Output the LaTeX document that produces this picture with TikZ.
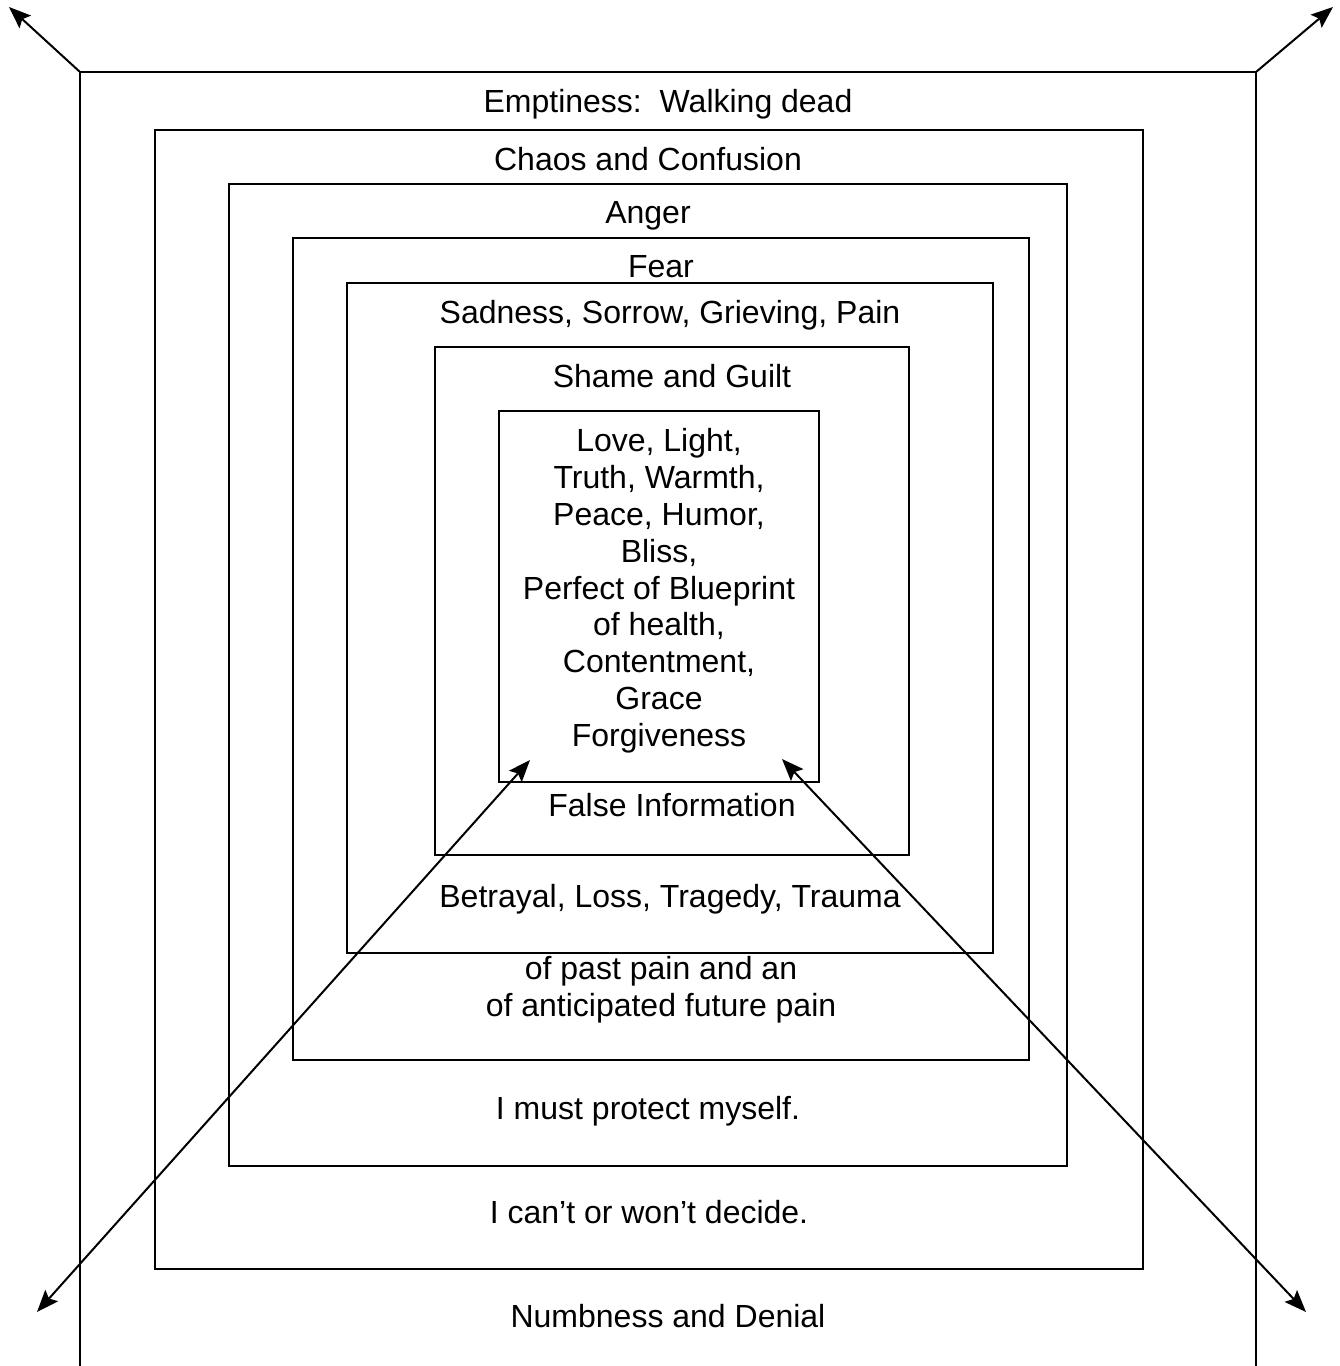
\documentclass[tikz,border=0pt]{standalone}
\usepackage{fontspec}
\setmainfont{Liberation Sans}
\usetikzlibrary{arrows.meta}
\begin{document}
\begin{tikzpicture}[x=1pt,y=-1pt,
  frame/.style={line width=2pt, line cap=rect},
  lbl/.style={anchor=base, inner sep=0pt, font=\fontsize{32}{37}\selectfont},
  arr/.style={line width=2pt, -{Stealth[length=22pt,width=17pt,inset=4pt]}},
  darr/.style={line width=2pt, {Stealth[length=22pt,width=17pt,inset=4pt]}-{Stealth[length=22pt,width=17pt,inset=4pt]}}]
\useasboundingbox (0,0) rectangle (1340,1366);
% outer frame (open at bottom)
\coordinate (otl) at (80,72);
\coordinate (otr) at (1256,72);
\draw[frame] (80,1366) -- (otl) -- (otr) -- (1256,1366);
% nested frames
\draw[frame] (155,130) rectangle (1143,1269);
\draw[frame] (229,184) rectangle (1067,1166);
\draw[frame] (293,238) rectangle (1029,1060);
\draw[frame] (347,283) rectangle (993,953);
\draw[frame] (435,347) rectangle (909,855);
\draw[frame] (499,411) rectangle (819,782);
% labels
\node[lbl] (t1) at (668,112) {Emptiness:\ \ Walking dead};
\node[lbl] (t2) at (648,170) {Chaos and Confusion};
\node[lbl] (t3) at (648,223) {Anger};
\node[lbl] (t4) at (661,277) {Fear};
\node[lbl] (t5) at (670,323) {Sadness, Sorrow, Grieving, Pain};
\node[lbl] (t6) at (672,387) {Shame and Guilt};
\node[lbl] (c1) at (659,451) {Love, Light,};
\node[lbl] (c2) at (659,488) {Truth, Warmth,};
\node[lbl] (c3) at (659,525) {Peace, Humor,};
\node[lbl] (c4) at (659,562) {Bliss,};
\node[lbl] (c5) at (659,599) {Perfect of Blueprint};
\node[lbl] (c6) at (659,635) {of health,};
\node[lbl] (c7) at (659,672) {Contentment,};
\node[lbl] (c8) at (659,709) {Grace};
\node[lbl] (c9) at (659,746) {Forgiveness};
\node[lbl] (b6) at (672,816) {False Information};
\node[lbl] (b5) at (670,907) {Betrayal, Loss, Tragedy, Trauma};
\node[lbl] (b4a) at (661,979) {of past pain and an};
\node[lbl] (b4b) at (661,1016) {of anticipated future pain};
\node[lbl] (b3) at (648,1119) {I must protect myself.};
\node[lbl] (b2) at (649,1223) {I can’t or won’t decide.};
\node[lbl] (b1) at (668,1327) {Numbness and Denial};
% arrows
\coordinate (tlTip) at (9,7);
\coordinate (trTip) at (1333,7);
\coordinate (ilTip) at (530,760);
\coordinate (irTip) at (782,759);
\coordinate (blTip) at (37,1312);
\coordinate (brTip) at (1306,1312);
\draw[arr] (otl) -- (tlTip);
\draw[arr] (otr) -- (trTip);
\draw[darr] (blTip) -- (ilTip);
\draw[darr] (brTip) -- (irTip);
\end{tikzpicture}
\end{document}
